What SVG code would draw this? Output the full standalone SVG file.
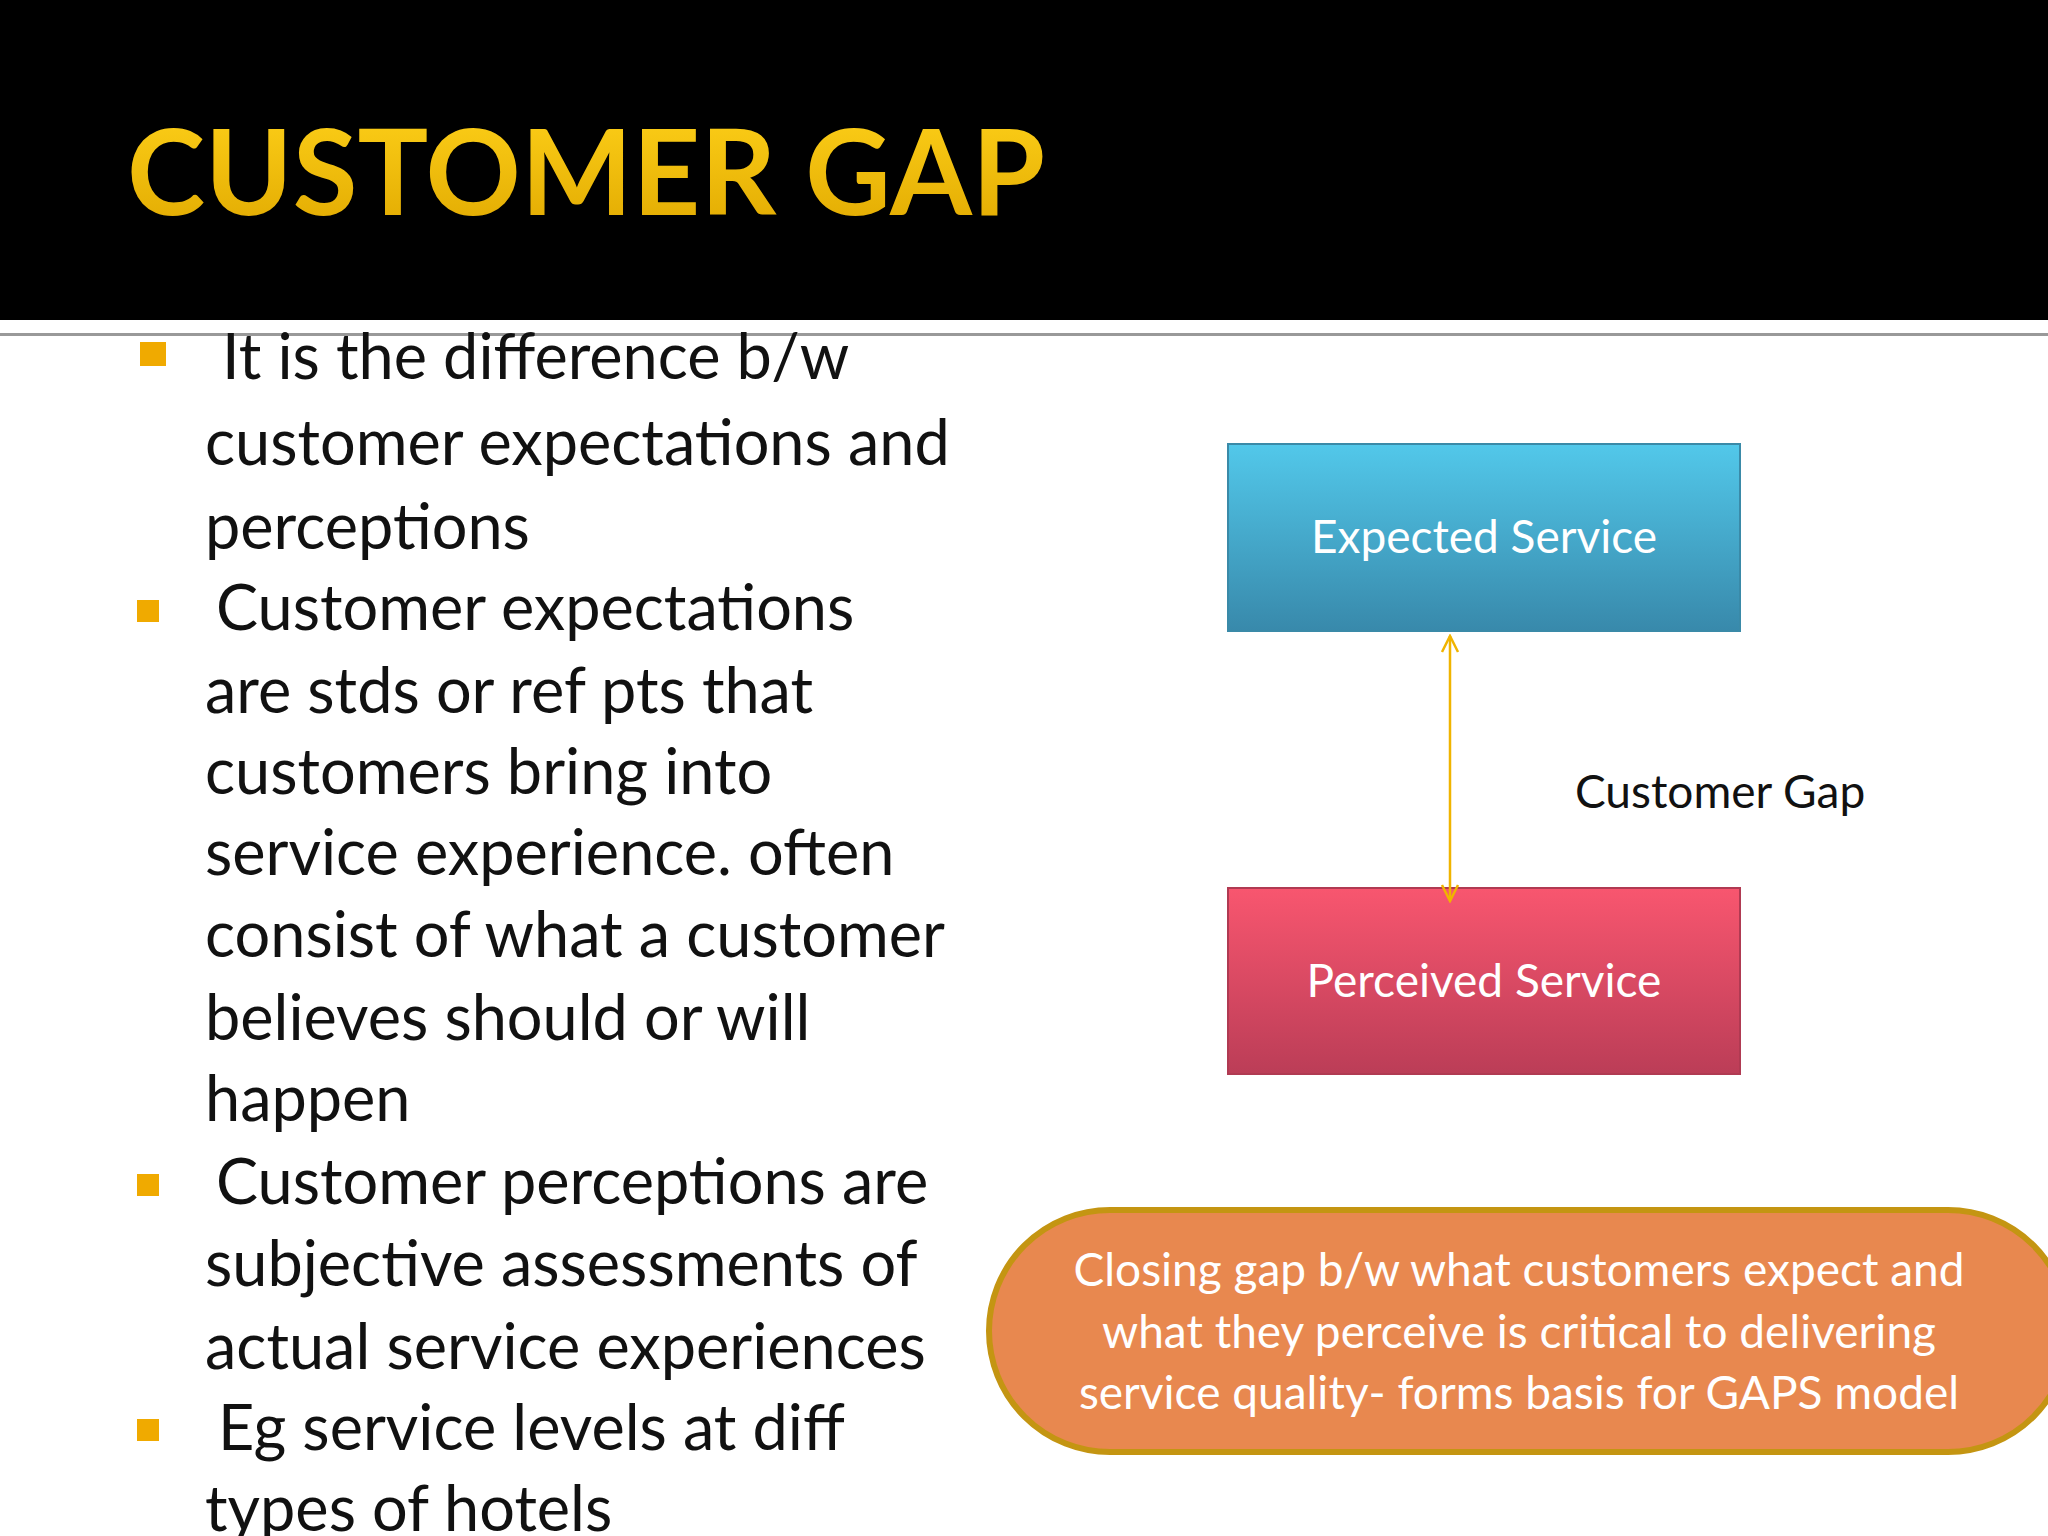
<svg xmlns="http://www.w3.org/2000/svg" width="2048" height="1536" viewBox="0 0 2048 1536">
<defs>
<linearGradient id="gt" x1="0" y1="0" x2="0" y2="1"><stop offset="0" stop-color="#ffd21a"/><stop offset="1" stop-color="#e0a800"/></linearGradient>
<linearGradient id="gb" x1="0" y1="0" x2="0" y2="1"><stop offset="0" stop-color="#52c8ea"/><stop offset="1" stop-color="#3889ab"/></linearGradient>
<linearGradient id="gr" x1="0" y1="0" x2="0" y2="1"><stop offset="0" stop-color="#f8566f"/><stop offset="1" stop-color="#bb3d57"/></linearGradient>
<marker id="ah" viewBox="0 0 20 20" refX="18" refY="10" markerWidth="20" markerHeight="20" markerUnits="userSpaceOnUse" orient="auto-start-reverse"><path d="M2,2 L18,10 L2,18" fill="none" stroke="#f0b400" stroke-width="2.5"/></marker>
</defs>
<style>
.b{font-family:Lato,"Open Sans",sans-serif;font-size:63px;fill:#111}
.sq{fill:#f0aa00}
.bx{font-family:Lato,"Open Sans",sans-serif;font-size:46px;fill:#fff;text-anchor:middle}
</style>
<rect width="2048" height="1536" fill="#fff"/>
<rect width="2048" height="320" fill="#000"/>
<rect y="333" width="2048" height="3" fill="#999"/>
<text x="127" y="215" font-family="Lato,'Open Sans',sans-serif" font-weight="bold" font-size="118" fill="url(#gt)" textLength="918">CUSTOMER GAP</text>
<g id="bullets">
<rect class="sq" x="140" y="342" width="26" height="24"/>
<rect class="sq" x="137" y="600" width="22" height="22"/>
<rect class="sq" x="137" y="1174" width="22" height="22"/>
<rect class="sq" x="137" y="1419" width="22" height="22"/>
<text class="b" x="222" y="379">It is the difference b/w</text>
<text class="b" x="205" y="465">customer expectations and</text>
<text class="b" x="205" y="549">perceptions</text>
<text class="b" x="216" y="630">Customer expectations</text>
<text class="b" x="205" y="713">are stds or ref pts that</text>
<text class="b" x="205" y="794">customers bring into</text>
<text class="b" x="205" y="875">service experience. often</text>
<text class="b" x="205" y="957">consist of what a customer</text>
<text class="b" x="205" y="1040">believes should or will</text>
<text class="b" x="205" y="1121">happen</text>
<text class="b" x="216" y="1204">Customer perceptions are</text>
<text class="b" x="205" y="1286">subjective assessments of</text>
<text class="b" x="205" y="1369">actual service experiences</text>
<text class="b" x="218" y="1450">Eg service levels at diff</text>
<text class="b" x="205" y="1531">types of hotels</text>
</g>
<g id="expected"><rect x="1228" y="444" width="512" height="187" fill="url(#gb)" stroke="#3a8aa8" stroke-width="2"/><text class="bx" x="1484" y="553">Expected Service</text></g>
<g id="perceived"><rect x="1228" y="888" width="512" height="186" fill="url(#gr)" stroke="#b03a52" stroke-width="2"/><text class="bx" x="1484" y="997">Perceived Service</text></g>
<g id="connectors"><line x1="1450" y1="636" x2="1450" y2="901" stroke="#f0b400" stroke-width="2.5" marker-start="url(#ah)" marker-end="url(#ah)"/></g>
<text x="1575" y="808" font-family="Lato,'Open Sans',sans-serif" font-size="46" fill="#111">Customer Gap</text>
<g id="oval"><rect x="989" y="1210" width="1080" height="242" rx="121" fill="#e8884f" stroke="#c49512" stroke-width="6"/>
<text class="bx" font-size="49" x="1519" y="1286">Closing gap b/w what customers expect and</text>
<text class="bx" font-size="49" x="1519" y="1348">what they perceive is critical to delivering</text>
<text class="bx" font-size="49" x="1519" y="1409">service quality- forms basis for GAPS model</text></g>
</svg>
